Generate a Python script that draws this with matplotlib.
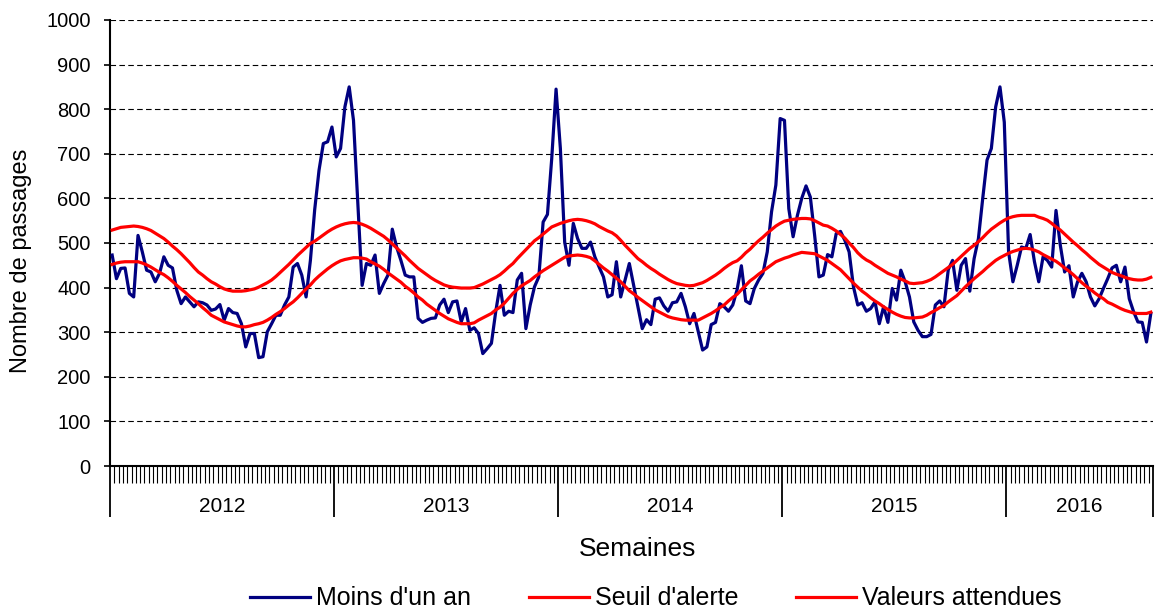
import numpy as np
import matplotlib
matplotlib.use('Agg')
import matplotlib.pyplot as plt
import matplotlib.transforms as mtransforms

plt.rcParams['font.family'] = ['Liberation Sans', 'DejaVu Sans']

# years and number of weeks shown for each
annees = ['2012', '2013', '2014', '2015', '2016']
semaines_par_an = [52, 52, 52, 52, 34]

# weekly counts, children under one year
moins_un_an = [
    473, 420, 443, 444, 387, 379, 517, 480, 439, 435,
    413, 432, 469, 450, 444, 394, 364, 379, 368, 357,
    368, 366, 361, 349, 352, 362, 327, 353, 344, 342,
    319, 267, 297, 297, 243, 245, 301, 319, 338, 338,
    361, 379, 446, 454, 428, 379, 461, 575, 663, 723,
    727, 760, 693, 712, 805, 850, 775, 590, 405, 454,
    450, 473, 387, 409, 428, 531, 491, 461, 428, 424,
    424, 331, 322, 327, 331, 332, 361, 374, 344, 368,
    370, 323, 353, 304, 310, 297, 252, 263, 275, 346,
    405, 338, 347, 344, 417, 432, 308, 361, 402, 424,
    547, 564, 690, 845, 712, 502, 450, 544, 510, 488,
    488, 502, 469, 446, 424, 379, 384, 458, 379, 417,
    454, 405, 357, 308, 328, 317, 374, 377, 359, 347,
    366, 368, 387, 357, 319, 342, 301, 260, 267, 317,
    322, 364, 357, 347, 361, 395, 449, 370, 364, 398,
    417, 432, 480, 570, 630, 779, 775, 577, 514, 562,
    600, 628, 603, 517, 424, 428, 474, 469, 521, 526,
    506, 480, 402, 361, 366, 347, 353, 368, 319, 357,
    322, 398, 372, 439, 413, 379, 323, 304, 290, 290,
    295, 361, 370, 357, 440, 461, 394, 450, 465, 392,
    465, 510, 600, 686, 712, 805, 850, 771, 480, 413,
    450, 491, 488, 519, 458, 413, 469, 461, 446, 573,
    495, 435, 449, 379, 413, 432, 413, 379, 359, 375,
    398, 420, 444, 450, 413, 446, 375, 346, 323, 322,
    278, 342]

# alert threshold
seuil_alerte = [
    529, 532, 535, 536, 537, 538, 537, 535, 532, 528,
    522, 516, 510, 502, 493, 485, 476, 466, 456, 445,
    435, 428, 420, 413, 408, 402, 397, 394, 392, 392,
    392, 393, 395, 397, 401, 406, 411, 417, 425, 434,
    443, 452, 462, 472, 481, 490, 499, 504, 511,
    518, 525, 531, 536, 540, 543, 545, 546, 545, 542,
    538, 533, 527, 521, 515, 507, 498, 489, 480, 471,
    461, 452, 443, 436, 429, 422, 416, 411, 406, 403,
    401, 400, 399, 399, 399, 400, 404, 408, 413, 418,
    423, 429, 437, 446, 454, 465, 475, 485,
    495, 505, 512, 520, 528, 536, 540, 544, 547, 550,
    552, 553, 552, 550, 547, 543, 537, 532, 527, 523,
    516, 506, 495, 485, 475, 465, 458, 450, 443, 437,
    430, 424, 418, 413, 409, 407, 405, 404, 405, 408,
    411, 416, 422, 428, 435, 443, 450, 456, 460,
    468, 478, 486, 496, 505, 513, 522, 530, 538, 544,
    549, 551, 553, 554, 555, 555, 554, 550, 545, 540,
    538, 533, 527, 519, 511, 500, 490, 478, 469, 462,
    457, 450, 444, 438, 432, 428, 424, 419, 415, 410,
    409, 410, 411, 414, 418, 424, 431, 438, 445,
    452, 461, 470, 479, 488, 495, 503, 512, 522, 531,
    538, 545, 551, 556, 559, 561, 562, 562, 562, 562,
    558, 555, 551, 544, 536, 529, 520, 511, 502, 494,
    485, 477, 468, 460, 452, 446, 440, 434, 430, 427,
    423, 420, 418, 417, 417, 419, 423]

# expected values
valeurs_attendues = [
    452, 455, 457, 458, 458, 458, 458, 455, 451, 446,
    440, 434, 429, 422, 414, 405, 397, 389, 380, 372,
    364, 355, 347, 338, 333, 328, 323, 320, 317, 314,
    312, 312, 314, 317, 319, 322, 327, 333, 340, 346,
    353, 361, 368, 377, 387, 397, 406, 417, 426,
    434, 442, 449, 455, 460, 463, 465, 467, 467, 466,
    464, 458, 453, 448, 441, 433, 426, 419, 412, 403,
    396, 388, 379, 372, 363, 356, 349, 342, 336, 330,
    326, 322, 319, 319, 319, 321, 327, 332, 337, 342,
    350, 356, 365, 376, 387, 396, 404, 410,
    416, 424, 431, 438, 444, 450, 456, 462, 468, 471,
    472, 473, 472, 470, 467, 460, 452, 444, 437, 429,
    421, 413, 403, 393, 386, 378, 371, 364, 357, 350,
    345, 340, 335, 332, 330, 328, 327, 327, 327, 327,
    332, 337, 342, 348, 355, 361, 370, 378, 385,
    395, 405, 415, 422, 430, 437, 444, 451, 458, 462,
    466, 469, 473, 476, 479, 478, 477, 476, 471, 466,
    461, 454, 447, 440, 430, 420, 410, 401, 392, 385,
    377, 370, 364, 357, 351, 345, 340, 336, 333, 332,
    332, 333, 334, 338, 344, 349, 355, 360, 368,
    375, 382, 392, 402, 411, 420, 428, 436, 445, 453,
    461, 467, 472, 477, 481, 484, 487, 488, 487, 484,
    480, 474, 469, 464, 459, 452, 444, 437, 429, 420,
    411, 403, 396, 388, 381, 375, 367, 363, 358, 353,
    349, 346, 343, 342, 342, 342, 345]

n = len(moins_un_an)
semaines = np.arange(n)

fig = plt.figure(figsize=(11.59, 6.13), dpi=100)
ax = fig.add_axes([0.0949, 0.2398, 0.8999, 0.7276])

ax.plot(semaines, moins_un_an, color='#000080', lw=2.3, label="Moins d'un an", zorder=3)
ax.plot(semaines, seuil_alerte, color='#FF0000', lw=2.3, label="Seuil d'alerte", zorder=4)
ax.plot(semaines, valeurs_attendues, color='#FF0000', lw=2.3, label='Valeurs attendues', zorder=4)

ax.set_xlim(-0.5, n - 0.5)
ax.set_ylim(0, 1000)
ax.set_yticks(np.arange(0, 1001, 100))
ax.yaxis.grid(True, linestyle=(0, (5, 3)), color='black', lw=0.8)
ax.set_axisbelow(True)

for s in ['top', 'right']:
    ax.spines[s].set_visible(False)
ax.spines['left'].set_linewidth(1.5)
ax.spines['bottom'].set_linewidth(1.5)

# week ticks and year separators
bornes = np.concatenate([[0], np.cumsum(semaines_par_an)]) - 0.5
ax.set_xticks(bornes)
ax.set_xticklabels([])
ax.set_xticks(np.arange(n + 1) - 0.5, minor=True)
ax.tick_params(axis='x', which='major', length=37, width=1.3, direction='out')
ax.tick_params(axis='x', which='minor', length=12, width=0.8, direction='out')
ax.tick_params(axis='y', length=4, width=1.2, labelsize=14.5, pad=10)

trans = mtransforms.blended_transform_factory(ax.transData, ax.transAxes)
for i, a in enumerate(annees):
    ax.text((bornes[i] + bornes[i + 1]) / 2, -0.09, a, transform=trans,
            ha='center', va='center', fontsize=15)

ax.set_ylabel('Nombre de passages', fontsize=17)
ax.yaxis.set_label_coords(-0.0748, 0.46)
ax.text(0.5058, -0.185, 'Semaines', transform=ax.transAxes, ha='center', va='center', fontsize=19)

fig.legend(loc='center', bbox_to_anchor=(0.566, 0.024), ncol=3, frameon=False,
           fontsize=18, handlelength=2.4, columnspacing=2.3, handletextpad=0.25)

fig.savefig('out.png', dpi=100)
